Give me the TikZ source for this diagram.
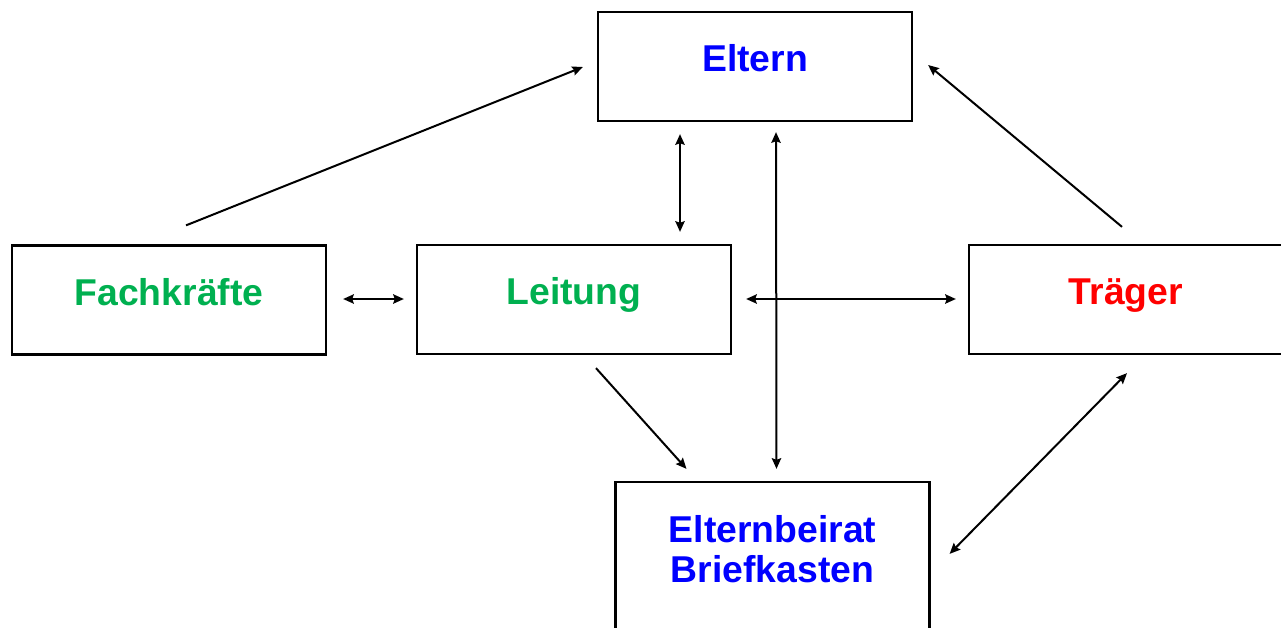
\documentclass[tikz,border=0pt]{standalone}
\usepackage{fontspec}
\setmainfont{Liberation Sans}
\usetikzlibrary{arrows.meta,calc}

\definecolor{cblue}{RGB}{0,0,255}
\definecolor{cgreen}{RGB}{0,176,80}
\definecolor{cred}{RGB}{255,0,0}

\begin{document}
\begin{tikzpicture}[x=0.75pt,y=-0.75pt,
  box/.style={draw=black,line width=1.7pt,rectangle,
    minimum width=235.5pt,minimum height=81.75pt,inner sep=0pt,
    font=\fontsize{28pt}{30pt}\selectfont\bfseries},
  oneline/.style={text height=12pt,text depth=4.5pt},
  conn/.style={line width=1.5pt},
  tipend/.style={conn,-{Stealth[length=8pt,width=7pt,inset=1.2pt]}},
  tipboth/.style={conn,{Stealth[length=8pt,width=7pt,inset=1.2pt]}-{Stealth[length=8pt,width=7pt,inset=1.2pt]}}]

  \useasboundingbox (0,0) rectangle (1281,628);
  \clip (0,0) rectangle (1281,628);

  % boxes
  \node[box,oneline,text=cblue]  (eltern) at (755,66.5)  {Eltern};
  \node[box,oneline,text=cgreen] (fach)   at (169,300)   {Fachkräfte};
  \node[box,oneline,text=cgreen] (leit)   at (574,299.5) {Leitung};
  \node[box,oneline,text=cred]   (trag)   at (1126,299.5){Träger};
  \node[box,text=cblue,align=center,minimum height=133.5pt,text depth=33.4pt]
        (beirat) at (772.5,571) {Elternbeirat\\Briefkasten};

  % connectors
  \draw[tipend]  ($(fach.north)+(17,-19)$) -- ($(eltern.west)+(-14,0.5)$);
  \draw[tipend]  ($(trag.north)+(-4,-17)$) -- ($(eltern.east)+(15,-1.5)$);
  \draw[tipboth] ($(eltern.south)+(-75,12)$) -- ($(leit.north)+(106,-12)$);
  \draw[tipboth] ($(eltern.south)+(21,10)$) -- ($(beirat.north)+(4,-12)$);
  \draw[tipboth] ($(fach.east)+(16,-1)$) -- ($(leit.west)+(-12,-0.5)$);
  \draw[tipboth] ($(leit.east)+(14,-0.5)$) -- ($(trag.west)+(-12,-0.5)$);
  \draw[tipend]  ($(leit.south)+(22,13)$) -- ($(beirat.north)+(-86,-12)$);
  \draw[tipboth] ($(trag.south)+(1,18)$) -- ($(beirat.north east)+(19,73)$);
\end{tikzpicture}
\end{document}
